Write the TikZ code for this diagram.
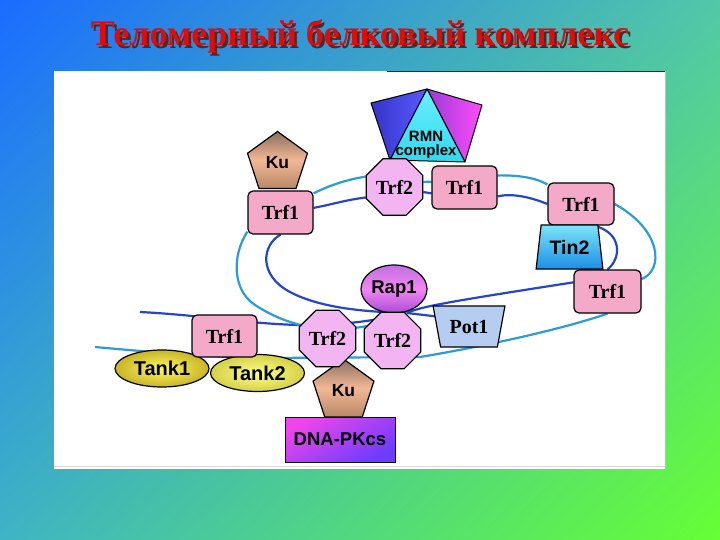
\documentclass[tikz,border=0pt]{standalone}
\usepackage{fontspec}
\setmainfont{Liberation Serif}
\newfontfamily\sansf{Liberation Sans}
\usetikzlibrary{shapes.geometric,calc,shadings}
\pgfdeclarelayer{back}
\pgfdeclarelayer{strands}
\pgfsetlayers{back,strands,main}
\definecolor{bgTL}{HTML}{1A6CFF}
\definecolor{bgTR}{HTML}{52C8A8}
\definecolor{bgBL}{HTML}{3FB4C4}
\definecolor{bgBR}{HTML}{66FF33}
\definecolor{titlered}{HTML}{E00C0C}
\definecolor{titleshadow}{HTML}{4A2A2A}
\definecolor{trfpink}{HTML}{F5A9C9}
\definecolor{octpink}{HTML}{F2B5F2}
\definecolor{dkblue}{HTML}{2446C8}
\definecolor{strandteal}{HTML}{2B9CD8}
\definecolor{kutop}{HTML}{8A6E5E}
\definecolor{kumid}{HTML}{F2B896}
\definecolor{kubot}{HTML}{B88866}
\definecolor{tintop}{HTML}{7CE4F8}
\definecolor{tinbot}{HTML}{1C8EE6}
\definecolor{potblue}{HTML}{B4CDF0}
\definecolor{raptop}{HTML}{C070E0}
\definecolor{rapmid}{HTML}{F286F2}
\definecolor{rapbot}{HTML}{A84CD4}
\definecolor{tankAin}{HTML}{FFF860}
\definecolor{tankAout}{HTML}{C8B428}
\definecolor{tankBin}{HTML}{FFFF88}
\definecolor{tankBout}{HTML}{D4D048}
\definecolor{dnatop}{HTML}{EE46EA}
\definecolor{dnabot}{HTML}{6C3CFF}
\definecolor{rmnblueA}{HTML}{3434C8}
\definecolor{rmnblueB}{HTML}{5A5AFF}
\definecolor{rmncyanA}{HTML}{6AF0FF}
\definecolor{rmncyanB}{HTML}{30D8EE}
\definecolor{rmnmagA}{HTML}{9A3AD8}
\definecolor{rmnmagB}{HTML}{FF4CF8}
\newcommand\labserif{\fontsize{20}{20}\selectfont\bfseries}
\newcommand\labsans{\sansf\fontsize{18.5}{18.5}\selectfont\bfseries}
\newcommand\titletext{Теломерный белковый комплекс}
\begin{document}
\begin{tikzpicture}[x=1pt,y=-1pt,
  outl/.style={draw=black, line width=1.2pt, inner sep=0pt},
  trfbox/.style={outl, rectangle, rounded corners=5pt, fill=trfpink, minimum width=65pt, minimum height=43pt, font=\labserif},
  oct/.style={outl, regular polygon, regular polygon sides=8, minimum size=61pt, fill=octpink, font=\labserif},
  penta/.style={outl, regular polygon, regular polygon sides=5, minimum size=63pt, top color=kutop, bottom color=kubot, middle color=kumid, font=\sansf\fontsize{17.5}{17.5}\selectfont\bfseries},
  tinshape/.style={outl, trapezium, trapezium left angle=76, trapezium right angle=76, trapezium stretches=true, minimum width=67pt, minimum height=44pt, top color=tintop, bottom color=tinbot, font=\sansf\fontsize{19.5}{19.5}\selectfont\bfseries},
  potshape/.style={outl, trapezium, trapezium left angle=111, trapezium right angle=111, trapezium stretches=true, minimum width=72pt, minimum height=41pt, fill=potblue, font=\labserif},
  rapshape/.style={outl, ellipse, minimum width=66pt, minimum height=48pt, top color=raptop, bottom color=rapbot, middle color=rapmid, font=\labsans},
  tankshape/.style={outl, ellipse, minimum width=94pt, minimum height=37pt, font=\sansf\fontsize{20}{20}\selectfont\bfseries},
  dnabox/.style={outl, rectangle, line width=1pt, minimum width=110pt, minimum height=45pt, top color=dnatop, bottom color=dnabot, shading angle=30, font=\labsans},
  dkstrand/.style={draw=dkblue, line width=2.2pt},
  tlstrand/.style={draw=strandteal, line width=2.2pt},
  tri/.style={draw=black, line width=1pt, line join=round}
]
\useasboundingbox (0,0) rectangle (720,540);
\begin{pgfonlayer}{back}
  \shade[upper left=bgTL, upper right=bgTR, lower left=bgBL, lower right=bgBR] (0,0) rectangle (720,540);
  \fill[white] (54,71) rectangle (666,469);
  \draw[black!85, line width=0.9pt] (387,71.5) -- (665,71.5);
  \draw[black!25, line width=0.8pt] (665.5,71) -- (665.5,469);
  \draw[black!15, line width=0.8pt] (54,466) -- (665,466);
\end{pgfonlayer}

% title with its shadow in one node
\node[inner sep=0pt, font=\fontsize{36}{36}\selectfont\bfseries] (title) at (360,38)
  {\makebox[0pt][l]{\hspace{2.5pt}\raisebox{-2.5pt}{\color{titleshadow}\titletext}}\textcolor{titlered}{\titletext}};

% RMN complex
\coordinate (rA) at (427,89);
\coordinate (rB) at (371,103);
\coordinate (rC) at (390,160);
\coordinate (rD) at (465,162);
\coordinate (rE) at (482,105);
\shade[tri, left color=rmnblueA, right color=rmnblueB] (rA) -- (rB) -- (rC) -- cycle;
\shade[tri, left color=rmnmagA, right color=rmnmagB] (rA) -- (rD) -- (rE) -- cycle;
\shade[tri, top color=rmncyanA, bottom color=rmncyanB] (rA) -- (rC) -- (rD) -- cycle;
\node[inner sep=0pt, align=center, font=\sansf\fontsize{15}{13.5}\selectfont\bfseries] (rmn) at (426,145) {RMN\\complex};

% nodes
\node[penta] (kuA) at (277.5,163) {Ku};
\node[trfbox] (trfA) at (280.5,212.5) {Trf1};
\node[oct] (trf2A) at (394.5,187) {Trf2};
\node[trfbox] (trfB) at (464.5,187.5) {Trf1};
\node[trfbox, minimum width=66pt, minimum height=42pt] (trfC) at (581,204) {Trf1};
\node[tinshape] (tin) at (569.5,247) {Tin2};
\node[trfbox, minimum width=67pt] (trfD) at (607.5,291.5) {Trf1};
\node[rapshape] (rap) at (394,289) {Rap1};
\node[potshape] (pot) at (469,326.5) {Pot1};
\node[tankshape, inner color=tankAin, outer color=tankAout] (tank1) at (162,368.5) {Tank1};
\node[tankshape, inner color=tankBin, outer color=tankBout] (tank2) at (257.5,373) {Tank2};
\node[trfbox, minimum height=42pt] (trfE) at (224.5,336) {Trf1};
\node[penta, minimum size=64pt] (kuB) at (343.5,391) {Ku};
\node[oct] (trf2B) at (327.5,338.5) {Trf2};
\node[oct] (trf2C) at (392.5,340.5) {Trf2};
\node[dnabox] (dna) at (340,439.5) {DNA-PKcs};

\coordinate (jn) at (407,313);
\coordinate (dl) at (140,312);
\coordinate (tl) at (95,347);

\begin{pgfonlayer}{strands}
  % dark strand
  \draw[dkstrand] (dl) .. controls (200,315) and (250,324) .. (300,325) .. controls (340,326) and (380,320) .. (jn);
  \draw[dkstrand] (jn) .. controls (420,307) and (440,303) .. (trfD.165);
  \draw[dkstrand] (jn) -- ($(jn)+(34,4)$);
  \draw[dkstrand] (trfD.north) .. controls (622,258) and (622,232) .. (trfC.300);
  \draw[dkstrand] (trfC.west) .. controls (530,197) and (512,193) .. (trfB.-15);
  \draw[dkstrand] (trf2A.-10) -- (trfB.190);
  \draw[dkstrand] (trf2A.200) .. controls (345,200) and (330,205) .. (trfA.8);
  \draw[dkstrand] (trfA.south) .. controls (262,245) and (258,275) .. (290,292) .. controls (322,309) and (370,312) .. (jn);
  % teal strand
  \draw[tlstrand] (tl) .. controls (150,352) and (220,358) .. (270,358) -- (420,357) .. controls (480,347) and (560,330) .. (trfD.south);
  \draw[tlstrand] (trfD.20) .. controls (664,270) and (662,230) .. (trfC.east);
  \draw[tlstrand] (trfC.150) .. controls (535,177) and (515,175) .. (trfB.20);
  \draw[tlstrand] (trf2A.10) -- (trfB.170);
  \draw[tlstrand] (trf2A.160) .. controls (345,180) and (328,186) .. (trfA.30);
  \draw[tlstrand] (trfA.210) .. controls (232,255) and (232,290) .. (255,305) .. controls (275,318) and (300,328) .. (330,329) .. controls (360,330) and (390,322) .. (jn);
\end{pgfonlayer}
\end{tikzpicture}
\end{document}
